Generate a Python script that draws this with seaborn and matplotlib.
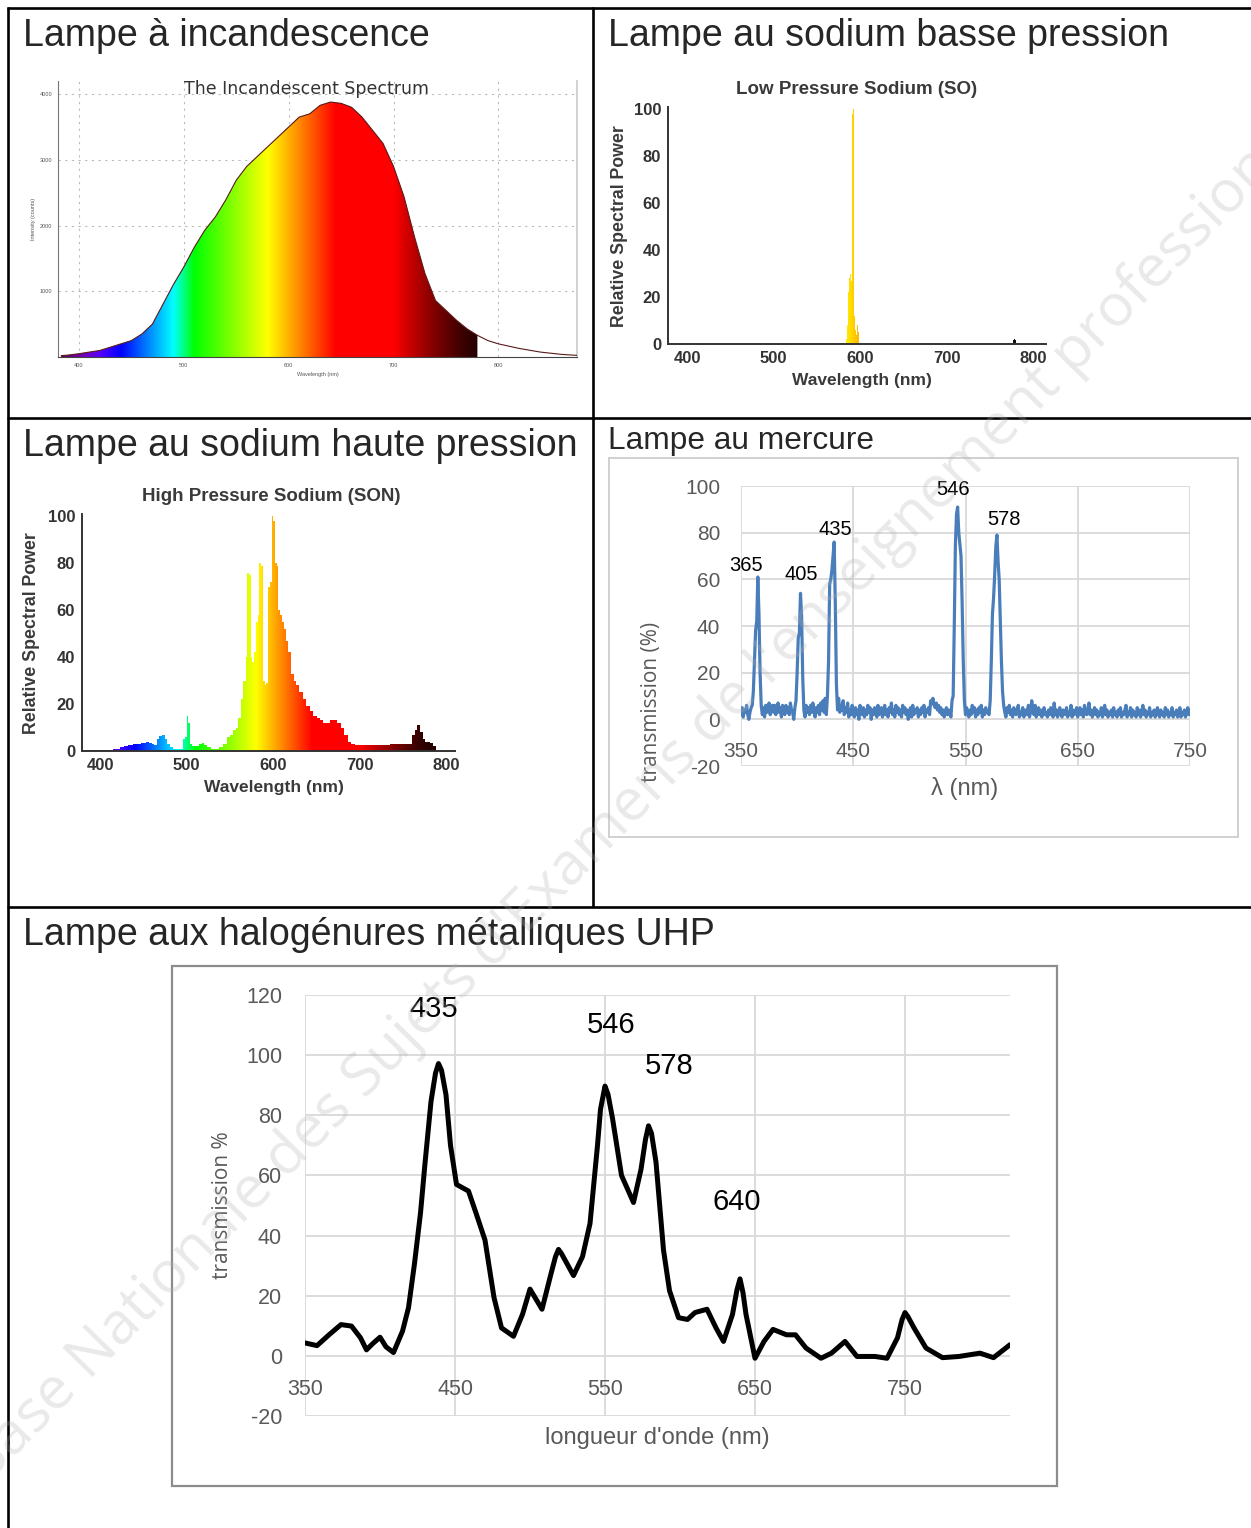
import numpy as np
import pandas as pd
import seaborn as sns
import matplotlib
matplotlib.use("Agg")
import matplotlib.pyplot as plt
from matplotlib.patches import Rectangle
from matplotlib.lines import Line2D

# ---------------- data ----------------
panel_titles = ["Lampe à incandescence", "Lampe au sodium basse pression",
                "Lampe au sodium haute pression", "Lampe au mercure",
                "Lampe aux halogénures métalliques UHP"]

# incandescent spectrum (counts)
inc_wl = [383, 390, 400, 410, 420, 430, 440, 450, 460, 470, 480, 490, 500, 510, 520,
          530, 540, 550, 560, 570, 580, 590, 600, 610, 620, 630, 640, 650, 660, 670,
          680, 690, 700, 710, 720, 730, 740, 750, 760, 770, 780, 790, 800, 820, 840,
          860, 875]
inc_val = [20, 30, 50, 75, 100, 150, 200, 250, 350, 500, 800, 1100, 1370, 1670, 1930,
           2130, 2390, 2690, 2900, 3050, 3200, 3350, 3500, 3650, 3700, 3830, 3880, 3860, 3800, 3650,
           3450, 3250, 2900, 2440, 1830, 1270, 860, 710, 560, 430, 330, 250, 200, 130, 75,
           40, 25]
inc_xticks = [400, 500, 600, 700, 800]
inc_yticks = [1000, 2000, 3000, 4000]

# low pressure sodium
lps_wl = [584, 586, 587, 588, 589, 590, 591, 592, 593, 594, 595, 596, 597, 598, 599]
lps_val = [2, 8, 22, 28, 30, 27, 98, 100, 24, 12, 6, 4, 8, 5, 1]
lps_ir_wl = [776, 777, 778, 779, 780, 781]
lps_ir_val = [0, 1.5, 2, 2, 1.5, 0]
sod_xticks = [400, 500, 600, 700, 800]
sod_yticks = [0, 20, 40, 60, 80, 100]

# high pressure sodium
hps_wl = [380, 390, 400, 410, 420, 425, 430, 435, 440, 445,
          450, 455, 458, 461, 464, 467, 470, 473, 476, 479,
          482, 486, 490, 494, 497, 499, 501, 503, 505, 508,
          512, 516, 519, 522, 526, 530, 535, 540, 545, 549,
          552, 555, 558, 561, 564, 567, 569, 571, 573, 575,
          577, 579, 581, 583, 585, 587, 589, 591, 593, 595,
          597, 599, 601, 603, 605, 607, 609, 611, 613, 616,
          619, 622, 625, 628, 632, 636, 640, 644, 648, 652,
          656, 660, 664, 668, 672, 676, 680, 684, 688, 692,
          696, 700, 710, 720, 730, 740, 750, 758, 762, 765,
          768, 771, 774, 777, 780, 783, 786, 789]
hps_val = [0.3, 0.4, 0.5, 0.6, 1, 1.5, 2, 2.5, 3, 3,
           3.5, 4, 3.5, 3, 2.5, 5, 6.5, 7, 5, 3,
           1.5, 1, 1, 1, 5, 6, 15, 12, 3, 2,
           2, 3, 3.5, 2.5, 1.5, 1, 1, 1.5, 3, 6,
           7, 9, 10, 14, 22, 30, 40, 76, 75, 40,
           38, 42, 55, 58, 80, 79, 30, 28, 29, 70,
           72, 100, 98, 80, 79, 60, 58, 55, 52, 47,
           42, 33, 30, 28, 25, 22, 19, 17, 15, 14,
           13, 12, 12, 13, 13, 12, 10, 7, 4, 3,
           2.5, 2.5, 2.5, 2.5, 2.5, 2.8, 3, 3, 7, 9,
           11, 8, 5, 4, 4, 3.5, 2, 0]

# mercury lamp (1 nm steps 350..750)
hg_wl = np.arange(350, 751)
hg_val = [2, 5, 1, 4, 3, 6, 2, 0, 3, 5,
          6, 12, 25, 38, 42, 61, 45, 20, 6, 2,
          5, 1, 6, 3, 4, 7, 2, 5, 6, 3,
          6, 2, 4, 7, 3, 5, 1, 6, 4, 2,
          6, 3, 5, 2, 7, 4, 3, 0, 5, 8,
          20, 35, 37, 54, 44, 18, 4, 1, 6, 3,
          5, 2, 6, 3, 7, 4, 1, 5, 3, 6,
          2, 7, 4, 8, 3, 9, 2, 10, 25, 58,
          60, 64, 70, 76, 50, 15, 4, 9, 3, 6,
          4, 8, 2, 5, 3, 7, 1, 4, 2, 6,
          3, 1, 5, 2, 4, 0, 6, 3, 2, 5,
          1, 4, 2, 6, 3, 5, 0, 4, 2, 5,
          3, 1, 6, 2, 4, 5, 1, 3, 6, 2,
          4, 1, 5, 3, 7, 2, 4, 1, 6, 3,
          5, 2, 4, 1, 6, 3, 5, 2, 4, 0,
          3, 5, 1, 6, 2, 4, 3, 5, 1, 4,
          2, 5, 3, 6, 1, 4, 3, 5, 2, 8,
          7, 9, 6, 5, 7, 4, 6, 3, 5, 2,
          4, 1, 3, 5, 2, 4, 3, 1, 8, 10,
          40, 75, 88, 91, 80, 75, 70, 50, 25, 8,
          2, 5, 3, 1, 4, 2, 6, 3, 5, 1,
          4, 2, 5, 3, 6, 1, 4, 2, 5, 3,
          3, 2, 8, 25, 45, 52, 62, 74, 79, 68,
          60, 42, 25, 12, 6, 3, 1, 5, 3, 6,
          2, 4, 1, 5, 3, 2, 4, 6, 1, 3,
          2, 5, 1, 3, 4, 2, 6, 1, 3, 8,
          4, 2, 6, 1, 3, 5, 2, 4, 1, 3,
          5, 2, 3, 1, 4, 2, 5, 3, 1, 7,
          2, 4, 1, 3, 5, 2, 1, 4, 3, 2,
          5, 1, 3, 2, 6, 1, 4, 2, 3, 5,
          1, 3, 5, 2, 4, 1, 6, 3, 2, 4,
          7, 2, 4, 1, 3, 5, 2, 4, 1, 3,
          2, 5, 1, 3, 6, 2, 4, 1, 3, 2,
          4, 1, 5, 2, 3, 1, 4, 2, 5, 1,
          3, 2, 4, 6, 1, 3, 2, 5, 1, 4,
          2, 3, 1, 5, 2, 4, 1, 3, 6, 2,
          4, 1, 3, 2, 5, 1, 3, 2, 4, 1,
          3, 5, 2, 1, 4, 2, 3, 1, 5, 2,
          4, 1, 3, 2, 5, 1, 3, 2, 4, 1,
          2, 5, 1, 3, 2, 4, 1, 3, 5, 2,
          4]
hg_peaks = ["365", "405", "435", "546", "578"]
hg_xticks = [350, 450, 550, 650, 750]
hg_yticks = [-20, 0, 20, 40, 60, 80, 100]

# metal halide UHP lamp
uhp_wl = [350, 358, 366, 374, 381, 387, 391, 395, 400, 404,
          409, 415, 419, 423, 427, 430, 434, 437, 439, 441, 444, 447,
          451, 459, 464, 470, 476, 481, 489, 495, 500, 508,
          514, 517, 519, 521, 529, 535, 540, 545, 547, 550, 552, 555, 561, 569,
          574, 577, 579, 581, 584, 589, 593, 599, 605, 610, 618, 624,
          629, 635, 638, 640, 642, 644, 650, 656, 662, 671, 677, 684,
          694, 701, 710, 718, 730, 738, 745, 748, 750, 752, 756, 764,
          775, 786, 800, 809, 820]
uhp_val = [4.3, 3.4, 7, 10.4, 9.9, 6, 2, 4, 6.2, 3,
           1.1, 8.2, 16, 30.7, 47.5, 64, 84.6, 94, 97.2, 95, 86.8, 70,
           57, 54.8, 47.5, 38.5, 19.4, 9.3, 6.5, 13.8, 22.2, 15.5,
           27.3, 33, 35.4, 34, 26.7, 33, 44, 70, 82, 89.7, 87, 79, 60, 51,
           62, 72, 76.5, 74, 64.4, 35.2, 21.7, 12.7, 12.1, 14.4, 15.5, 9.3,
           4.8, 13.8, 22, 25.6, 21, 13.8, -0.8, 4.8, 8.8, 7, 7, 2.6,
           -0.8, 0.9, 4.8, -0.2, -0.2, -0.8, 6, 12, 14.4, 13, 9.3, 2.6,
           -0.6, -0.2, 0.9, -0.6, 3.7]
uhp_peaks = ["435", "546", "578", "640"]
uhp_xticks = [350, 450, 550, 650, 750]
uhp_yticks = [-20, 0, 20, 40, 60, 80, 100, 120]

# ---------------- setup ----------------
sns.set_theme(style="white")
plt.rcParams['font.family'] = ['Liberation Sans', 'DejaVu Sans']
plt.rcParams['axes.unicode_minus'] = False

W, H = 1251, 1528
fig = plt.figure(figsize=(W / 100, H / 100), dpi=100)
fig.patch.set_facecolor('white')


def box(x0, y0, x1, y1):
    return [x0 / W, 1 - y1 / H, (x1 - x0) / W, (y1 - y0) / H]


def fx(x):
    return x / W


def fy(y):
    return 1 - y / H


def wl_rgb(w):
    w = min(max(w, 380), 780)
    if w < 440:
        r, g, b = -(w - 440) / 60, 0.0, 1.0
    elif w < 490:
        r, g, b = 0.0, (w - 440) / 50, 1.0
    elif w < 510:
        r, g, b = 0.0, 1.0, -(w - 510) / 20
    elif w < 580:
        r, g, b = (w - 510) / 70, 1.0, 0.0
    elif w < 645:
        r, g, b = 1.0, -(w - 645) / 65, 0.0
    else:
        r, g, b = 1.0, 0.0, 0.0
    if w < 420:
        f = 0.3 + 0.7 * (w - 380) / 40
    elif w <= 700:
        f = 1.0
    else:
        f = 0.15 + 0.85 * ((780 - w) / 80) ** 1.3
    return (r * f, g * f, b * f)


def rainbow_fill(ax, x, y, x0, x1, y1, step=None):
    grid = np.linspace(x0, x1, 900)
    grad = np.array([wl_rgb(w) for w in grid])[None, :, :]
    coll = ax.fill_between(x, y, 0, step=step, facecolor='none', edgecolor='none')
    im = ax.imshow(grad, extent=[x0, x1, 0, y1], aspect='auto', origin='lower',
                   interpolation='bilinear', zorder=1)
    im.set_clip_path(coll.get_paths()[0], transform=ax.transData)


# ---------------- table lines ----------------
def hline(y, x0, x1, lw=1.9):
    fig.add_artist(Line2D([fx(x0), fx(x1)], [fy(y), fy(y)], color='black', lw=lw,
                          transform=fig.transFigure, solid_capstyle='butt'))


def vline(x, y0, y1, lw=1.9):
    fig.add_artist(Line2D([fx(x), fx(x)], [fy(y0), fy(y1)], color='black', lw=lw,
                          transform=fig.transFigure, solid_capstyle='butt'))


hline(8, 7, 1251)
hline(418, 7, 1251)
hline(907, 7, 1251)
vline(8, 7, 1528)
vline(593, 7, 907)

# panel titles
fig.text(fx(23), fy(46), panel_titles[0], fontsize=27, va='baseline', ha='left')
fig.text(fx(608), fy(46), panel_titles[1], fontsize=27, va='baseline', ha='left')
fig.text(fx(23), fy(456), panel_titles[2], fontsize=27, va='baseline', ha='left')
fig.text(fx(608), fy(449), panel_titles[3], fontsize=22.8, va='baseline', ha='left')
fig.text(fx(23), fy(945), panel_titles[4], fontsize=27, va='baseline', ha='left')

# ---------------- panel 1: incandescent ----------------
ax1 = fig.add_axes(box(58, 81, 577, 357))
mask = [w <= 780 for w in inc_wl]
rainbow_fill(ax1, [w for w, m in zip(inc_wl, mask) if m],
             [v for v, m in zip(inc_val, mask) if m], 380, 875, 4200)
sns.lineplot(x=inc_wl, y=inc_val, ax=ax1, color='#5a1a1a', lw=0.8, zorder=3)
ax1.set_xlim(380, 875)
ax1.set_ylim(0, 4200)
ax1.set_xticks(inc_xticks, labels=[str(t) for t in inc_xticks])
ax1.set_yticks(inc_yticks, labels=[str(t) for t in inc_yticks])
ax1.grid(True, color='#bbbbbb', lw=0.8, ls=(0, (2, 4)))
ax1.set_axisbelow(True)
ax1.tick_params(labelsize=4, colors='#555555', length=2, width=0.5, pad=2)
ax1.spines['top'].set_visible(False)
ax1.spines['left'].set_color('#777777')
ax1.spines['left'].set_lw(0.8)
ax1.spines['bottom'].set_color('#444444')
ax1.spines['bottom'].set_lw(0.8)
ax1.spines['right'].set_color('#cccccc')
ax1.set_xlabel('Wavelength (nm)', fontsize=4, color='#555555', labelpad=3)
ax1.set_ylabel('Intensity (counts)', fontsize=4, color='#555555', labelpad=3)
fig.text(fx(307), fy(89), 'The Incandescent Spectrum', fontsize=12.5, ha='center', va='center',
         color='#333333', family=['DejaVu Sans'])


# ---------------- sodium helpers ----------------
def sodium_axes(ax, xlim, title_xy, title, ylab_xy, xlab_xy):
    ax.set_xlim(*xlim)
    ax.set_ylim(0, 101)
    ax.set_xticks(sod_xticks, labels=[str(t) for t in sod_xticks])
    ax.set_yticks(sod_yticks, labels=[str(t) for t in sod_yticks])
    ax.grid(False)
    for s in ['top', 'right']:
        ax.spines[s].set_visible(False)
    for s in ['left', 'bottom']:
        ax.spines[s].set_color('#333333')
        ax.spines[s].set_lw(1.4)
    ax.tick_params(direction='out', length=3, width=1, colors='#333333', labelsize=12, pad=2)
    for lab in ax.get_xticklabels() + ax.get_yticklabels():
        lab.set_fontweight('bold')
    ax.set_xlabel('')
    ax.set_ylabel('')
    ax.patch.set_alpha(0)
    fig.text(fx(title_xy[0]), fy(title_xy[1]), title, fontsize=13.5, fontweight='bold',
             ha='center', va='center', color='#3a3a3a')
    fig.text(fx(ylab_xy[0]), fy(ylab_xy[1]), 'Relative Spectral Power', fontsize=12.8,
             fontweight='bold', ha='center', va='center', rotation=90, color='#3a3a3a')
    fig.text(fx(xlab_xy[0]), fy(xlab_xy[1]), 'Wavelength (nm)', fontsize=12.5,
             fontweight='bold', ha='center', va='center', color='#3a3a3a')


# ---------------- panel 2: low pressure sodium ----------------
ax2 = fig.add_axes(box(668, 107, 1046, 344))
rainbow_fill(ax2, lps_wl, lps_val, 378, 815, 101, step='mid')
ax2.fill_between(lps_ir_wl, lps_ir_val, 0, step='mid', color='#111111', lw=0, zorder=2)
sodium_axes(ax2, (378, 815), (857, 90), 'Low Pressure Sodium (SO)', (619, 226), (862, 380))

# ---------------- panel 3: high pressure sodium ----------------
ax3 = fig.add_axes(box(82, 514, 455, 751))
rainbow_fill(ax3, hps_wl, hps_val, 379, 810, 101, step='mid')
sodium_axes(ax3, (379, 810), (271, 497), 'High Pressure Sodium (SON)', (32, 633), (274, 787))

# ---------------- panel 4: mercury ----------------
fig.add_artist(Rectangle((fx(609), fy(837)), fx(1238) - fx(609), fy(458) - fy(837),
                         transform=fig.transFigure, fill=False, edgecolor='#d0d0d0', lw=1.4))
ax4 = fig.add_axes(box(741, 486, 1190, 766))
sns.lineplot(x=hg_wl, y=hg_val, ax=ax4, color='#4a7ebb', lw=2.3, zorder=3)
ax4.set_xlim(350, 750)
ax4.set_ylim(-20, 100)
ax4.set_xticks(hg_xticks)
ax4.set_yticks(hg_yticks, labels=[str(t) for t in hg_yticks])
ax4.grid(True, color='#d9d9d9', lw=1.3)
ax4.set_axisbelow(True)
for s in ax4.spines.values():
    s.set_visible(False)
ax4.tick_params(axis='y', length=0, pad=15, labelsize=15, labelcolor='#595959')
ax4.tick_params(axis='x', length=0, labelbottom=False)
for t in hg_xticks:
    ax4.annotate(str(t), (t, 0), xytext=(0, -16.5), textcoords='offset points', ha='center',
                 va='top', fontsize=15, color='#595959', annotation_clip=False)
ax4.set_xlabel('')
ax4.set_ylabel('')
hg_label_pos = [(354.5, 65.8), (403.5, 62), (433.7, 81.2), (538.9, 98.3), (584.3, 85.5)]
for s, (x, y) in zip(hg_peaks, hg_label_pos):
    ax4.text(x, y, s, ha='center', va='center', fontsize=14.5, color='black', zorder=4)
fig.text(fx(651), fy(702), 'transmission (%)', rotation=90, ha='center', va='center',
         fontsize=15, color='#595959', family=['Open Sans', 'DejaVu Sans'])
fig.text(fx(965), fy(789), 'λ (nm)', ha='center', va='center', fontsize=17, color='#595959')

# ---------------- panel 5: UHP ----------------
fig.add_artist(Rectangle((fx(172), fy(1486)), fx(1057) - fx(172), fy(966) - fy(1486),
                         transform=fig.transFigure, fill=False, edgecolor='#8c8c8c', lw=1.6))
ax5 = fig.add_axes(box(305, 995, 1010, 1416))
sns.lineplot(x=uhp_wl, y=uhp_val, ax=ax5, color='black', lw=3.6, zorder=3)
ax5.lines[-1].set_solid_joinstyle('round')
ax5.set_xlim(350, 820)
ax5.set_ylim(-20, 120)
ax5.set_xticks(uhp_xticks)
ax5.set_yticks(uhp_yticks, labels=[str(t) for t in uhp_yticks])
ax5.grid(True, color='#d9d9d9', lw=1.3)
ax5.set_axisbelow(True)
for s in ax5.spines.values():
    s.set_visible(False)
ax5.tick_params(axis='y', length=0, pad=16.5, labelsize=15.5, labelcolor='#595959')
ax5.tick_params(axis='x', length=0, labelbottom=False)
for t in uhp_xticks:
    ax5.annotate(str(t), (t, 0), xytext=(0, -16.5), textcoords='offset points', ha='center',
                 va='top', fontsize=15.5, color='#595959', annotation_clip=False)
ax5.set_xlabel('')
ax5.set_ylabel('')
uhp_label_pos = [(436, 115.5), (554, 110), (593, 96.5), (637.7, 51)]
for s, (x, y) in zip(uhp_peaks, uhp_label_pos):
    ax5.text(x, y, s, ha='center', va='center', fontsize=21, color='black', zorder=4)
fig.text(fx(222), fy(1205), 'transmission %', rotation=90, ha='center', va='center',
         fontsize=15, color='#595959', family=['Open Sans', 'DejaVu Sans'])
fig.text(fx(657), fy(1438), "longueur d'onde (nm)", ha='center', va='center', fontsize=17,
         color='#595959')

# ---------------- watermark ----------------
fig.text(fx(650), fy(786), "Base Nationale des Sujets d'Examens de l'enseignement professionnel",
         rotation=45.6, rotation_mode='anchor', ha='center', va='center', fontsize=42.5,
         color='#b0b0b0', alpha=0.27, family=['Open Sans', 'DejaVu Sans'], zorder=10)

fig.savefig('out.png', dpi=100, facecolor='white')
